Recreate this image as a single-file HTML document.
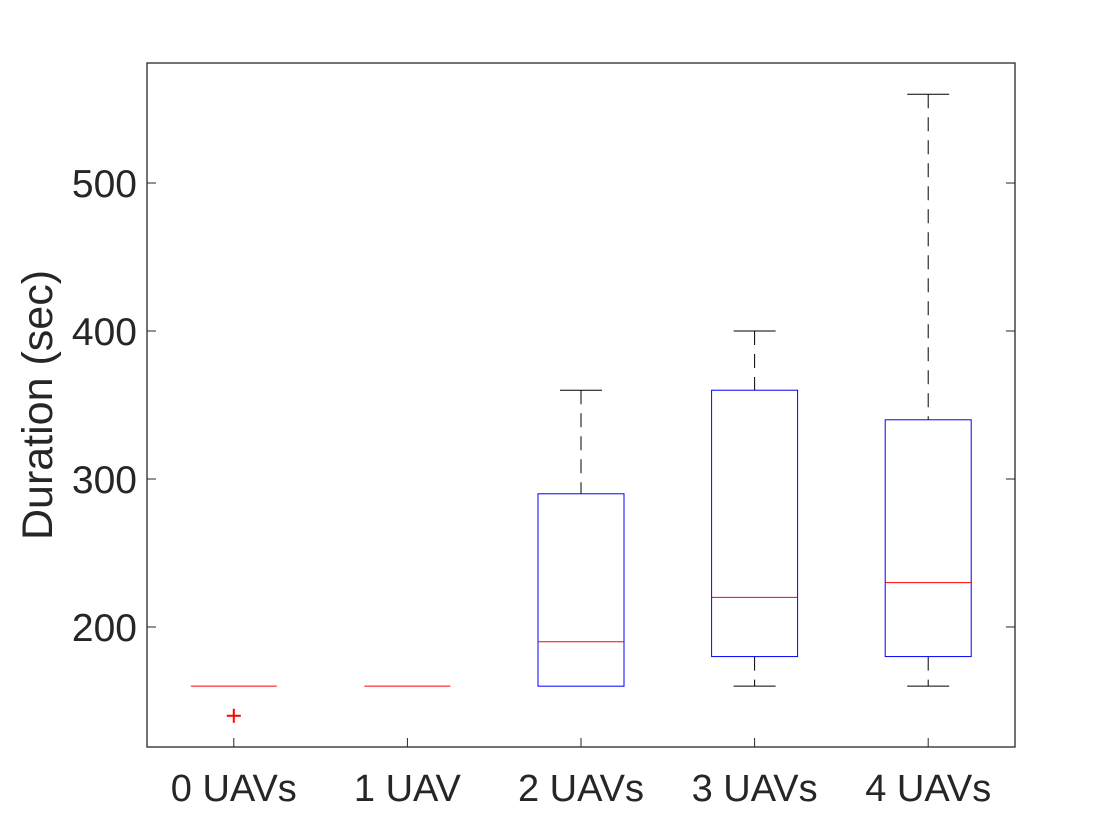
<!DOCTYPE html>
<html><head><meta charset="utf-8"><style>body{margin:0;background:#fff}svg{display:block}</style></head>
<body>
<svg id="chart" width="1120" height="840" xmlns="http://www.w3.org/2000/svg" font-family="Liberation Sans, sans-serif">
</svg>
<script>
const categories = ["0 UAVs","1 UAV","2 UAVs","3 UAVs","4 UAVs"];
const lowerWhisker = [160,160,160,160,160];
const q1 = [160,160,160,180,180];
const median = [160,160,190,220,230];
const q3 = [160,160,290,360,340];
const upperWhisker = [160,160,360,400,560];
const outliers = [[140],[],[],[],[]];
const yTicks = [200,300,400,500];

const NS="http://www.w3.org/2000/svg";
const svg=document.getElementById('chart');
const L=147,R=1015,T=63,B=747;
const yMin=118.9,yMax=581.1;
function y(v){return B-(v-yMin)/(yMax-yMin)*(B-T);}
const step=(R-L)/categories.length;
function x(i){return L+step*(i+0.5);}
function mk(tag,attrs,name){const e=document.createElementNS(NS,tag);for(const k in attrs)e.setAttribute(k,attrs[k]);


svg.appendChild(e);return e;}
function line(x1,y1,x2,y2,stroke,name,extra){const a={x1,y1,x2,y2,stroke,'stroke-width':1};Object.assign(a,extra||{});return mk('line',a,name);}

mk('rect',{x:L,y:T,width:R-L,height:B-T,fill:'none',stroke:'#262626','stroke-width':1.3},'axes-box');
yTicks.forEach(v=>{
  line(L,y(v),L+9,y(v),'#262626','y-tick');
  line(R,y(v),R-9,y(v),'#262626','y-tick-right');
  const t=mk('text',{x:L-10,y:y(v)+14,'text-anchor':'end','font-size':39,fill:'#262626'},'y-tick-label');t.textContent=v;
});
categories.forEach((c,i)=>{
  const cx=x(i);
  line(cx,B,cx,B-9,'#262626','x-tick');
  const t=mk('text',{x:cx,y:801,'text-anchor':'middle','font-size':38,fill:'#262626'},'x-tick-label');t.textContent=c;
  const hw=43,cw=21;
  if(upperWhisker[i]>q3[i]){line(cx,y(upperWhisker[i]),cx,y(q3[i]),'#000','upper-whisker',{'stroke-dasharray':'14,9'});
    line(cx-cw,y(upperWhisker[i]),cx+cw,y(upperWhisker[i]),'#000','upper-cap');}
  if(lowerWhisker[i]<q1[i]){line(cx,y(q1[i]),cx,y(lowerWhisker[i]),'#000','lower-whisker',{'stroke-dasharray':'14,9'});
    line(cx-cw,y(lowerWhisker[i]),cx+cw,y(lowerWhisker[i]),'#000','lower-cap');}
  if(q3[i]>q1[i]) mk('rect',{x:cx-hw,y:y(q3[i]),width:2*hw,height:y(q1[i])-y(q3[i]),fill:'none',stroke:'#0000ff','stroke-width':1},'box-'+i);
  line(cx-hw,y(median[i]),cx+hw,y(median[i]),'#ff0000','median-'+i);
  outliers[i].forEach(o=>{
    line(cx-7,y(o),cx+7,y(o),'#ff0000','outlier-h',{'stroke-width':2});
    line(cx,y(o)-7,cx,y(o)+7,'#ff0000','outlier-v',{'stroke-width':2});
  });
});
const yl=mk('text',{x:0,y:0,transform:'translate(52,405) rotate(-90)','text-anchor':'middle','font-size':43,fill:'#262626'},'y-axis-title');yl.textContent='Duration (sec)';
</script>
</body></html>
